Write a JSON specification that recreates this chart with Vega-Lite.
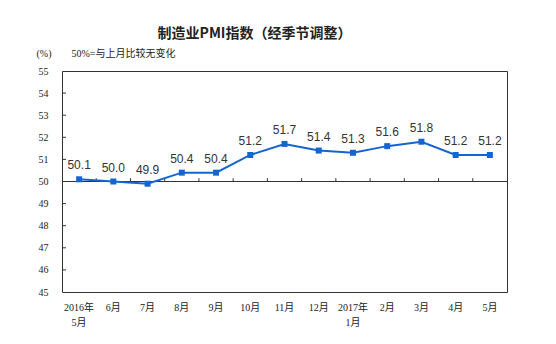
{
  "$schema": "https://vega.github.io/schema/vega-lite/v6.json",
  "width": 445,
  "height": 221,
  "autosize": {"type": "none"},
  "padding": {"left": 62, "top": 71, "right": 49, "bottom": 52},
  "background": "white",
  "title": {
    "text": "制造业PMI指数（经季节调整）",
    "font": "Noto Sans CJK SC",
    "fontSize": 14,
    "fontWeight": "bold",
    "color": "#222",
    "anchor": "middle",
    "dx": -30,
    "offset": 7
  },
  "config": {
    "view": {"stroke": "#333", "strokeWidth": 1},
    "font": "Liberation Serif, Noto Sans CJK SC"
  },
  "data": {
    "values": [
      {"month": "2016年|5月", "pmi": 50.1},
      {"month": "6月", "pmi": 50.0},
      {"month": "7月", "pmi": 49.9},
      {"month": "8月", "pmi": 50.4},
      {"month": "9月", "pmi": 50.4},
      {"month": "10月", "pmi": 51.2},
      {"month": "11月", "pmi": 51.7},
      {"month": "12月", "pmi": 51.4},
      {"month": "2017年|1月", "pmi": 51.3},
      {"month": "2月", "pmi": 51.6},
      {"month": "3月", "pmi": 51.8},
      {"month": "4月", "pmi": 51.2},
      {"month": "5月", "pmi": 51.2}
    ]
  },
  "encoding": {
    "x": {
      "field": "month",
      "type": "ordinal",
      "sort": null,
      "scale": {"type": "band", "paddingInner": 0, "paddingOuter": 0,
        "domain": ["2016年|5月", "6月", "7月", "8月", "9月", "10月", "11月", "12月", "2017年|1月", "2月", "3月", "4月", "5月"]},
      "axis": {
        "title": null,
        "labelAngle": 0,
        "domain": false,
        "ticks": false,
        "labelPadding": 10,
        "labelOverlap": false,
        "labelFont": "Liberation Serif, Noto Sans CJK SC",
        "labelFontSize": 10,
        "labelColor": "#222",
        "labelLineHeight": 15,
        "labelExpr": "split(datum.label, '|')"
      }
    },
    "y": {
      "field": "pmi",
      "type": "quantitative",
      "scale": {"domain": [45, 55], "nice": false, "zero": false},
      "axis": {
        "title": "(%)\u00a0\u00a0\u00a0\u00a0\u00a0\u00a0\u00a0\u00a050%=与上月比较无变化",
        "titleAngle": 0,
        "titleX": -26,
        "titleY": -18,
        "titleAlign": "left",
        "titleBaseline": "middle",
        "titleFont": "Liberation Serif, Noto Sans CJK SC",
        "titleFontSize": 10,
        "titleFontWeight": "normal",
        "titleColor": "#222",
        "values": [45, 46, 47, 48, 49, 50, 51, 52, 53, 54, 55],
        "labelOverlap": false,
        "labelBound": false,
        "grid": false,
        "domain": false,
        "ticks": false,
        "labelPadding": 14,
        "labelFont": "Liberation Serif",
        "labelFontSize": 10,
        "labelColor": "#222"
      }
    }
  },
  "layer": [
    {
      "mark": {"type": "rule", "color": "#333", "strokeWidth": 1},
      "encoding": {
        "x": {"value": 0},
        "x2": {"value": 445},
        "y": {"datum": 50, "type": "quantitative"}
      }
    },
    {
      "mark": {"type": "rule", "color": "#333", "strokeWidth": 1},
      "transform": [{"filter": "datum.month != '2016年|5月'"}],
      "encoding": {
        "x": {"field": "month", "type": "ordinal", "sort": null, "bandPosition": 0},
        "y": {"datum": 50, "type": "quantitative"},
        "y2": {"datum": 50.15}
      }
    },
    {
      "mark": {"type": "rule", "color": "#333", "strokeWidth": 1},
      "data": {"values": [{"v": 46}, {"v": 47}, {"v": 48}, {"v": 49}, {"v": 51}, {"v": 52}, {"v": 53}, {"v": 54}]},
      "encoding": {
        "x": {"value": 0},
        "x2": {"value": 4},
        "y": {"field": "v", "type": "quantitative"}
      }
    },
    {
      "mark": {"type": "line", "color": "#1565d0", "strokeWidth": 2},
      "encoding": {}
    },
    {
      "mark": {"type": "square", "color": "#1565d0", "size": 36, "opacity": 1},
      "encoding": {}
    },
    {
      "mark": {"type": "text", "dy": -14, "font": "Liberation Sans", "fontSize": 12, "color": "#333"},
      "encoding": {
        "text": {"field": "pmi", "type": "quantitative", "format": ".1f"}
      }
    }
  ]
}
